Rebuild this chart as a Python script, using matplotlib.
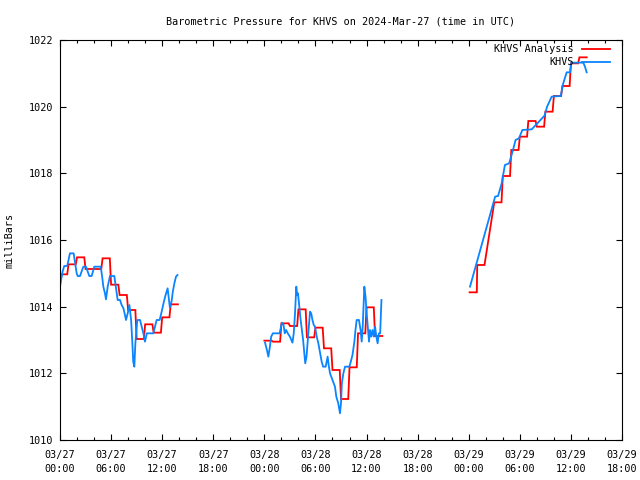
import numpy as np
import matplotlib
matplotlib.use("Agg")
import matplotlib.pyplot as plt
from matplotlib.lines import Line2D
from matplotlib.ticker import MultipleLocator

# ---------------- data ----------------
title = "Barometric Pressure for KHVS on 2024-Mar-27 (time in UTC)"
ylabel = "milliBars"
series_names = ["KHVS Analysis", "KHVS"]

xtick_hours = [0, 6, 12, 18, 24, 30, 36, 42, 48, 54, 60, 66]
xtick_labels = ["03/27\n00:00", "03/27\n06:00", "03/27\n12:00", "03/27\n18:00",
                "03/28\n00:00", "03/28\n06:00", "03/28\n12:00", "03/28\n18:00",
                "03/29\n00:00", "03/29\n06:00", "03/29\n12:00", "03/29\n18:00"]
ytick_vals = [1010, 1012, 1014, 1016, 1018, 1020, 1022]

# Analysis (hourly values, hours since 03/27 00:00 UTC)
ana_day1_hours = [0, 1, 2, 3, 4, 5, 6, 7, 8, 9, 10, 11, 12, 13]
ana_day1_vals = [1014.97, 1015.27, 1015.48, 1015.13, 1015.13, 1015.45, 1014.66,
                 1014.35, 1013.90, 1013.03, 1013.47, 1013.22, 1013.68, 1014.07]
ana_day2_hours = [24, 25, 26, 27, 28, 29, 30, 31, 32, 33, 34, 35, 36, 37]
ana_day2_vals = [1012.98, 1012.95, 1013.50, 1013.42, 1013.92, 1013.08, 1013.37,
                 1012.75, 1012.10, 1011.23, 1012.18, 1013.20, 1013.98, 1013.12]
ana_day3_hours = [48.1, 49, 51, 52, 53, 54, 55, 56, 57, 58, 59, 60, 61]
ana_day3_vals = [1014.43, 1015.25, 1017.13, 1017.92, 1018.70, 1019.10, 1019.57,
                 1019.40, 1019.85, 1020.32, 1020.62, 1021.30, 1021.48]

# Observations
obs_day1_hours = [0.0, 0.3, 0.5, 0.85, 1.17, 1.6, 1.96, 2.07, 2.35, 2.74, 3.05, 3.44,
                  3.72, 4.03, 4.78, 4.95, 5.09, 5.28, 5.4, 5.6, 5.87, 6.38, 6.55, 6.77,
                  7.05, 7.24, 7.45, 7.63, 7.75, 7.95, 8.15, 8.35, 8.5, 8.6, 8.73, 8.85,
                  9.08, 9.4, 9.6, 9.79, 9.98, 10.2, 10.96, 11.16, 11.35, 11.7, 11.94,
                  12.2, 12.4, 12.64, 12.75, 12.9, 13.1, 13.25, 13.43, 13.62, 13.8]
obs_day1_vals = [1014.60, 1015.05, 1015.22, 1015.22, 1015.60, 1015.60, 1015.00, 1014.92,
                 1014.92, 1015.20, 1015.20, 1014.92, 1014.92, 1015.20, 1015.20, 1014.90,
                 1014.60, 1014.40, 1014.22, 1014.60, 1014.92, 1014.92, 1014.60, 1014.20,
                 1014.20, 1014.05, 1013.95, 1013.75, 1013.60, 1013.80, 1014.05, 1013.60,
                 1012.90, 1012.35, 1012.20, 1012.90, 1013.60, 1013.60, 1013.40, 1013.20,
                 1012.95, 1013.20, 1013.20, 1013.40, 1013.60, 1013.60, 1013.85, 1014.15,
                 1014.35, 1014.55, 1014.30, 1013.98, 1014.15, 1014.45, 1014.70, 1014.90,
                 1014.95]
obs_day2_hours = [24.08, 24.3, 24.47, 24.65, 24.8, 25.0, 25.8, 25.95, 26.07, 26.25, 26.4,
                  26.55, 26.75, 27.0, 27.3, 27.45, 27.6, 27.75, 27.85, 27.95, 28.1, 28.25,
                  28.4, 28.55, 28.7, 28.8, 28.95, 29.1, 29.25, 29.36, 29.5, 29.65, 29.8,
                  29.95, 30.15, 30.34, 30.55, 30.73, 30.9, 31.2, 31.43, 31.55, 31.71, 31.85,
                  32.0, 32.29, 32.45, 32.68, 32.78, 32.88, 33.0, 33.1, 33.28, 33.47, 33.98,
                  34.15, 34.35, 34.57, 34.7, 34.84, 35.11, 35.3, 35.43, 35.55, 35.74, 35.88,
                  36.0, 36.15, 36.29, 36.4, 36.55, 36.7, 36.85, 37.0, 37.15, 37.3, 37.45,
                  37.6, 37.75]
obs_day2_vals = [1012.92, 1012.70, 1012.50, 1012.80, 1013.10, 1013.20, 1013.20, 1013.40,
                 1013.52, 1013.45, 1013.20, 1013.30, 1013.20, 1013.10, 1012.92, 1013.20,
                 1013.80, 1014.60, 1014.35, 1014.40, 1014.00, 1013.62, 1013.30, 1013.00,
                 1012.60, 1012.30, 1012.50, 1013.00, 1013.50, 1013.85, 1013.80, 1013.60,
                 1013.45, 1013.40, 1013.10, 1012.90, 1012.60, 1012.35, 1012.20, 1012.20,
                 1012.50, 1012.25, 1012.00, 1011.90, 1011.80, 1011.60, 1011.30, 1011.10,
                 1010.95, 1010.80, 1011.10, 1011.70, 1012.00, 1012.20, 1012.20, 1012.35,
                 1012.55, 1012.95, 1013.30, 1013.60, 1013.60, 1013.30, 1012.95, 1013.40,
                 1014.60, 1014.30, 1013.85, 1013.40, 1012.95, 1013.30, 1013.10, 1013.30,
                 1013.10, 1013.40, 1013.10, 1012.90, 1013.20, 1013.20, 1014.20]
obs_day3_hours = [48.15, 48.5, 48.85, 49.2, 49.5, 49.85, 50.2, 50.5, 50.85, 51.1, 51.45,
                  51.87, 52.25, 52.75, 53.2, 53.5, 53.9, 54.3, 55.4, 56.9, 57.2, 57.74,
                  58.8, 59.1, 59.5, 59.9, 60.05, 61.46, 61.65, 61.85]
obs_day3_vals = [1014.60, 1014.92, 1015.25, 1015.55, 1015.83, 1016.15, 1016.47, 1016.75,
                 1017.08, 1017.30, 1017.32, 1017.70, 1018.25, 1018.30, 1018.70, 1019.00,
                 1019.05, 1019.30, 1019.32, 1019.73, 1020.00, 1020.30, 1020.32, 1020.70,
                 1021.03, 1021.03, 1021.32, 1021.32, 1021.20, 1021.03]

RED = "#ff0000"
BLUE = "#0a84ff"
FONT = "DejaVu Sans Mono"
FS = 7.3


def analysis_path(hour_lists, val_lists, plateau=0.85):
    t, p = [], []
    for hrs, vals in zip(hour_lists, val_lists):
        for h, v in zip(hrs, vals):
            t += [h, h + plateau]
            p += [v, v]
        t.append(np.nan)
        p.append(np.nan)
    return np.array(t), np.array(p)


def obs_path(hour_lists, val_lists):
    t, p = [], []
    for hrs, vals in zip(hour_lists, val_lists):
        t += list(hrs) + [np.nan]
        p += list(vals) + [np.nan]
    return np.array(t), np.array(p)


plt.rcParams["font.family"] = [FONT]

fig = plt.figure(figsize=(6.4, 4.8), dpi=100)
ax = fig.add_axes([60 / 640, 40 / 480, 562 / 640, 400 / 480])

at, ap = analysis_path([ana_day1_hours, ana_day2_hours, ana_day3_hours],
                       [ana_day1_vals, ana_day2_vals, ana_day3_vals])
ot, op = obs_path([obs_day1_hours, obs_day2_hours, obs_day3_hours],
                  [obs_day1_vals, obs_day2_vals, obs_day3_vals])

ax.plot(at, ap, color=RED, lw=1.3, solid_joinstyle="miter")
ax.plot(ot, op, color=BLUE, lw=1.3)

ax.set_xlim(0, 66)
ax.set_ylim(1010, 1022)
ax.set_xticks(xtick_hours)
ax.set_xticklabels(xtick_labels, fontsize=FS, linespacing=1.5)
ax.xaxis.set_minor_locator(MultipleLocator(2))
ax.set_yticks(ytick_vals)
ax.set_yticklabels([str(v) for v in ytick_vals], fontsize=FS)

ax.tick_params(axis="both", which="major", direction="in", length=4, width=0.8,
               top=True, right=True, pad=5, colors="black")
ax.tick_params(axis="x", which="minor", direction="in", length=2.2, width=0.8,
               top=True, bottom=True)
ax.tick_params(axis="x", which="major", pad=7)
for s in ax.spines.values():
    s.set_linewidth(0.8)

ax.set_ylabel(ylabel, fontsize=FS, labelpad=10)
ax.set_title(title, fontsize=FS, pad=11)

# legend (top right, text right-aligned before the sample line)
leg_rows = [(series_names[0], RED, 0.9775), (series_names[1], BLUE, 0.945)]
for name, col, yy in leg_rows:
    ax.text(0.9146, yy, name, transform=ax.transAxes, ha="right", va="center",
            fontsize=FS)
    ax.add_line(Line2D([0.9288, 0.9786], [yy, yy], transform=ax.transAxes,
                       color=col, lw=1.3))

fig.savefig("out.png", dpi=100)
